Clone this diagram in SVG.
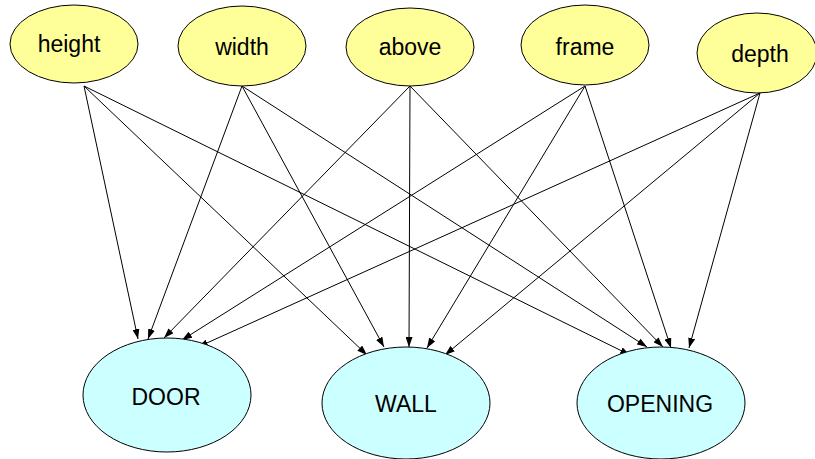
<svg xmlns="http://www.w3.org/2000/svg" width="815" height="459" viewBox="0 0 815 459">
<style>
.attr ellipse{fill:#FFFF99;stroke:#000;stroke-width:1}
.cls ellipse{fill:#CCFFFF;stroke:#000;stroke-width:1}
text{font-family:"Liberation Sans",Arial,sans-serif;font-size:23px;fill:#000;text-anchor:middle}
#edges line{stroke:#000;stroke-width:1;marker-end:url(#arr)}
</style>
<defs>
<marker id="arr" markerUnits="userSpaceOnUse" markerWidth="10" markerHeight="7" refX="10" refY="3.5" orient="auto">
<path d="M0,0 L10,3.5 L0,7 z" fill="#000"/>
</marker>
</defs>
<rect width="815" height="459" fill="#fff"/>
<g id="edges">
<line x1="84" y1="86" x2="138" y2="339"/>
<line x1="84" y1="86" x2="367" y2="355"/>
<line x1="84" y1="86" x2="630" y2="355"/>
<line x1="242" y1="86" x2="148" y2="339"/>
<line x1="242" y1="86" x2="384" y2="347"/>
<line x1="242" y1="86" x2="647" y2="347"/>
<line x1="410" y1="86" x2="164" y2="338"/>
<line x1="410" y1="86" x2="409" y2="347"/>
<line x1="410" y1="86" x2="663" y2="347"/>
<line x1="585" y1="86" x2="182" y2="340"/>
<line x1="585" y1="86" x2="427" y2="348"/>
<line x1="585" y1="86" x2="671" y2="348"/>
<line x1="760" y1="93" x2="198" y2="347"/>
<line x1="760" y1="93" x2="445" y2="355"/>
<line x1="760" y1="93" x2="689" y2="348"/>
</g>
<g id="height" class="attr"><ellipse cx="74" cy="44" rx="64" ry="39"/><text x="69" y="52">height</text></g>
<g id="width" class="attr"><ellipse cx="242" cy="46" rx="64" ry="40"/><text x="242" y="55">width</text></g>
<g id="above" class="attr"><ellipse cx="410" cy="47" rx="64" ry="39"/><text x="410" y="55">above</text></g>
<g id="frame" class="attr"><ellipse cx="585" cy="45" rx="64" ry="40"/><text x="585" y="55">frame</text></g>
<g id="depth" class="attr"><ellipse cx="757" cy="53" rx="60" ry="40"/><text x="760" y="62">depth</text></g>
<g id="door" class="cls"><ellipse cx="167" cy="395" rx="84" ry="57"/><text x="166" y="405">DOOR</text></g>
<g id="wall" class="cls"><ellipse cx="406" cy="403" rx="84" ry="56"/><text x="406" y="412">WALL</text></g>
<g id="opening" class="cls"><ellipse cx="661" cy="403" rx="84" ry="56"/><text x="660" y="412">OPENING</text></g>
</svg>
